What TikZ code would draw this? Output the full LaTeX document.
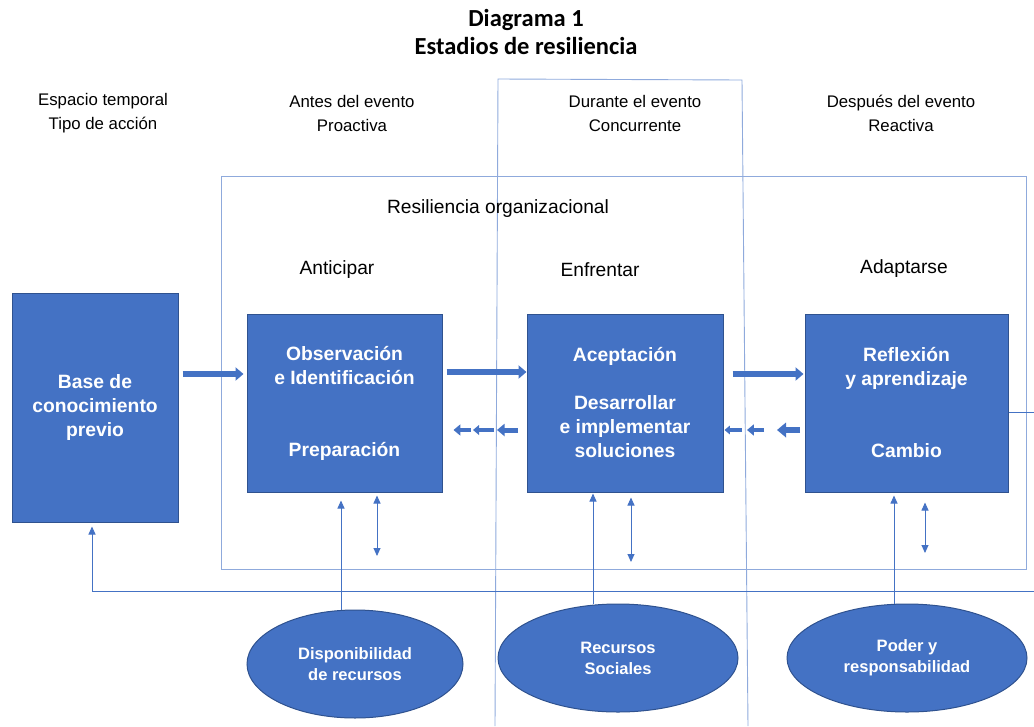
\documentclass[tikz,border=0pt]{standalone}
\usepackage{fontspec}
\setmainfont{Liberation Sans}
\newfontfamily\titlefont{Carlito}
\usetikzlibrary{arrows.meta,shapes.geometric}
\definecolor{boxblue}{HTML}{4472C4}
\definecolor{boxedge}{HTML}{2F528F}
\definecolor{framecol}{HTML}{8FAADC}
\definecolor{linecol}{HTML}{4472C4}
\begin{document}
\begin{tikzpicture}[x=1pt,y=-1pt,
  bluebox/.style={draw=boxedge, line width=1pt, fill=boxblue, text=white,
    font=\fontsize{19.3}{24}\selectfont\bfseries, align=center, inner sep=0pt},
  oval/.style={ellipse, draw=boxedge, line width=1pt, fill=boxblue, text=white,
    font=\fontsize{16.5}{21}\selectfont\bfseries, align=center, inner sep=0pt},
  header/.style={font=\fontsize{16.8}{24}\selectfont, align=center, inner sep=0pt},
  label/.style={font=\fontsize{19.2}{22}\selectfont, inner sep=0pt},
  frame/.style={draw=framecol, line width=0.9pt},
  thinline/.style={draw=linecol, line width=0.9pt},
  thinarrow/.style={thinline, -{Triangle[width=7pt,length=8pt]}},
  twoarrow/.style={thinline, {Triangle[width=7pt,length=8pt]}-{Triangle[width=7pt,length=8pt]}},
  fatarrow/.style={draw=boxblue, line width=5.5pt, -{Triangle[width=13pt,length=8pt]}},
  backarrow/.style={draw=boxblue, line width=#1, -{Triangle[width=2.4*#1,length=1.5*#1]}},
]
\useasboundingbox (0,0) rectangle (1034,726);

% title
\node[font=\titlefont\bfseries\fontsize{24.5}{28}\selectfont, align=center, inner sep=0pt] (title) at (526,32) {Diagrama 1\\Estadios de resiliencia};

% column headers
\node[header] (h0) at (103,113) {Espacio temporal\\Tipo de acción};
\node[header] (h1) at (352,113) {Antes del evento\\Proactiva};
\node[header] (h2) at (635,113) {Durante el evento\\Concurrente};
\node[header] (h3) at (901,113) {Después del evento\\Reactiva};

% frames
\draw[frame] (495,726) -- (498,79) -- (742,80) -- (748,726);
\draw[frame] (221,176) rectangle (1026,569);

\node[label] (resorg) at (498,209) {Resiliencia organizacional};
\node[label] (antic) at (337,270) {Anticipar};
\node[label] (enfr) at (600,270) {Enfrentar};
\node[label] (adapt) at (904,269) {Adaptarse};

% boxes
\node[bluebox, minimum width=166pt, minimum height=229pt] (base) at (95,407.5) {Base de\\conocimiento\\previo};
\node[bluebox, minimum width=195pt, minimum height=178pt] (b1) at (344.5,403) {Observación\\e Identificación\\~\\~\\Preparación};
\node[bluebox, minimum width=196pt, minimum height=178pt] (b2) at (625,403) {Aceptación\\~\\Desarrollar\\e implementar\\soluciones};
\node[bluebox, minimum width=203pt, minimum height=178pt] (b3) at (906.5,403) {Reflexión\\y aprendizaje\\~\\~\\Cambio};

% ellipses
\node[oval, minimum width=216pt, minimum height=108pt] (e1) at (355,664) {Disponibilidad\\de recursos};
\node[oval, minimum width=240pt, minimum height=108pt] (e2) at (618,658) {Recursos\\Sociales};
\node[oval, minimum width=240pt, minimum height=108pt] (e3) at (907,658) {Poder y\\responsabilidad};

% main fat arrows
\draw[fatarrow] ([xshift=4pt]base.east |- 0,374) -- ([xshift=-3pt]b1.west |- 0,374);
\draw[fatarrow] ([xshift=4pt]b1.east |- 0,372) -- (b2.west |- 0,372);
\draw[fatarrow] ([xshift=9pt]b2.east |- 0,374) -- ([xshift=-1pt]b3.west |- 0,374);

% small back arrows
\draw[backarrow=5pt] (518,430) -- (497,430);
\draw[backarrow=4pt] (494,430) -- (473,430);
\draw[backarrow=4.5pt] (471,430) -- ([xshift=11pt]b1.east |- 0,430);
\draw[backarrow=6pt] (800,430) -- (777,430);
\draw[backarrow=4.5pt] (764,430) -- (747,430);
\draw[backarrow=3.5pt] (742,430) -- ([xshift=1pt]b2.east |- 0,430);

% links from ellipses
\draw[thinarrow] (e1.north -| 341,0) -- ([yshift=-8pt]b1.south -| 341,0);
\draw[thinarrow] (e2.north -| 593,0) -- ([yshift=-1pt]b2.south -| 593,0);
\draw[thinarrow] (e3.north -| 894,0) -- ([yshift=-3pt]b3.south -| 894,0);

% double arrows
\draw[twoarrow] ([yshift=-3pt]b1.south -| 377,0) -- (377,556);
\draw[twoarrow] ([yshift=-5pt]b2.south -| 631,0) -- (631,562);
\draw[twoarrow] ([yshift=-10pt]b3.south -| 925,0) -- (925,553);

% feedback loop
\coordinate (fbtop) at (1034,412);
\coordinate (fbbot) at (1034,591);
\coordinate (fbleft) at (92,591);
\draw[thinline] (b3.east |- fbtop) -- (fbtop);
\draw[thinarrow] (fbbot) -- (fbleft) -- ([yshift=-4pt]base.south -| fbleft);
\end{tikzpicture}
\end{document}
